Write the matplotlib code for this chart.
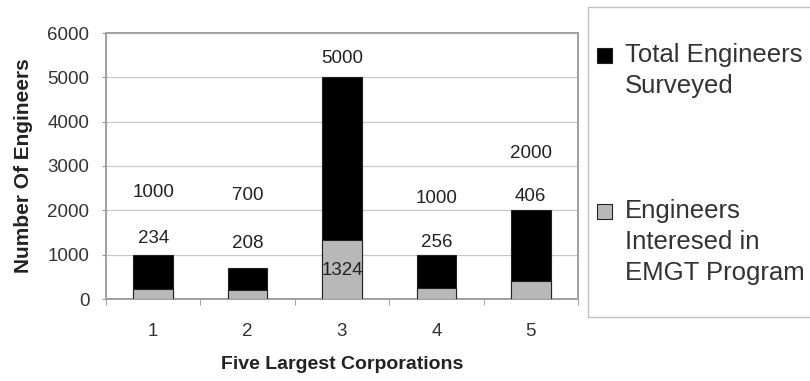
import numpy as np
import matplotlib.pyplot as plt
from matplotlib.patches import Rectangle

plt.rcParams['font.family'] = ['Liberation Sans', 'DejaVu Sans']

corporations = [1, 2, 3, 4, 5]
total_surveyed = [1000, 700, 5000, 1000, 2000]
interested = [234, 208, 1324, 256, 406]
series_names = ['Total Engineers\nSurveyed', 'Engineers\nInteresed in\nEMGT Program']

# where the data labels sit (data units), as in the original
total_label_y = [2400, 2330, 5430, 2270, 3290]
interested_label_y = [1360, 1250, 640, 1270, 2310]

W, H = 810, 381
fig = plt.figure(figsize=(W / 100, H / 100), dpi=100)
ax = fig.add_axes([106 / W, 1 - 299 / H, 472 / W, 266 / H])

black = ax.bar(corporations, total_surveyed, width=0.42, color='black', edgecolor='#222222',
               linewidth=0.8, zorder=2)
grey = ax.bar(corporations, interested, width=0.42, color='#b8b8b8', edgecolor='#222222',
              linewidth=0.8, zorder=3)

for x, v, y in zip(corporations, total_surveyed, total_label_y):
    ax.text(x, y, str(v), ha='center', va='center', fontsize=13.5, color='#222222', zorder=4)
for x, v, y in zip(corporations, interested, interested_label_y):
    ax.text(x, y, str(v), ha='center', va='center', fontsize=13.5, color='#222222', zorder=4)

ax.set_xlim(0.5, 5.5)
ax.set_ylim(0, 6000)
ax.set_yticks(np.arange(0, 6001, 1000))
ax.set_xticks(corporations)
ax.set_xticks(np.arange(0.5, 5.6, 1), minor=True)
ax.tick_params(axis='x', which='major', length=0, pad=17, labelsize=13.5, labelcolor='#333333')
ax.tick_params(axis='x', which='minor', length=4, color='#999999')
ax.tick_params(axis='y', length=3, color='#999999', labelsize=13.5, labelcolor='#333333', pad=9)
ax.yaxis.grid(True, color='#c8c8c8', linewidth=0.9, zorder=0)
ax.set_axisbelow(True)
for s in ax.spines.values():
    s.set_color('#a0a0a0')
    s.set_linewidth(1.4)

ax.set_xlabel('Five Largest Corporations', fontsize=14, fontweight='bold', color='#222222', labelpad=12)
ax.set_ylabel('Number Of Engineers', fontsize=15, fontweight='bold', color='#222222', labelpad=10)

# legend box, drawn by hand so the swatch sits on the first text line
fig.patches.append(Rectangle((588 / W, 1 - 317 / H), 0.4, 310 / H,
                             transform=fig.transFigure, facecolor='white',
                             edgecolor='#c0c0c0', linewidth=1.0))
entry_tops = [55, 211]
for bars, name, top in zip([black, grey], series_names, entry_tops):
    fig.patches.append(Rectangle((597 / W, 1 - (top + 8) / H), 15 / W, 15 / H,
                                 transform=fig.transFigure,
                                 facecolor=bars.patches[0].get_facecolor(),
                                 edgecolor='#222222', linewidth=0.8))
    for k, line in enumerate(name.split('\n')):
        fig.text(625 / W, 1 - (top + 31 * k) / H, line, ha='left', va='center',
                 fontsize=18.5, color='#333333')

fig.savefig('out.png', dpi=100)
